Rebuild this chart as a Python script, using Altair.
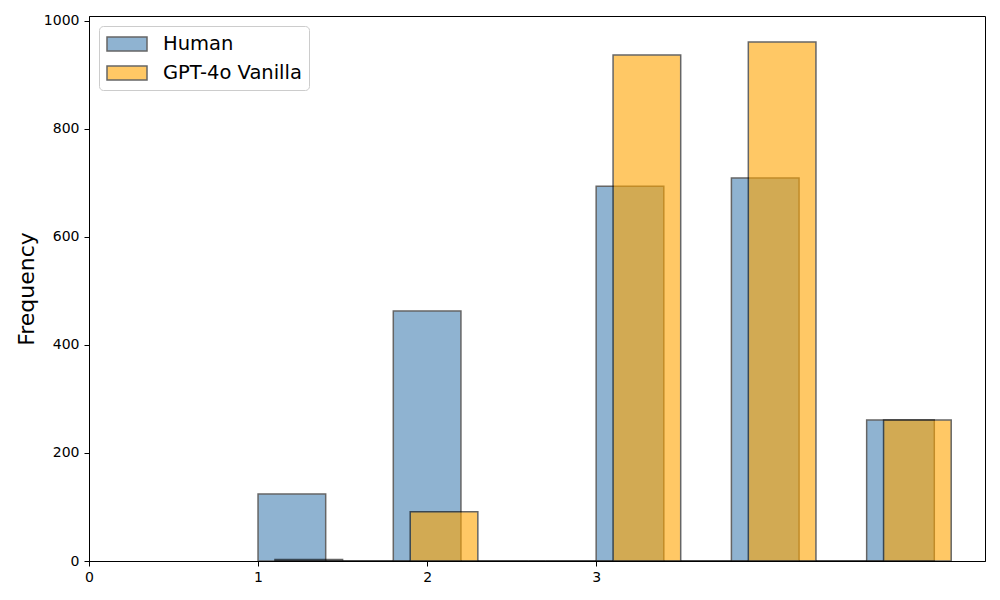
import altair as alt
import pandas as pd

# Histogram bins (start edges) and counts
human_bin_start = [1.0, 1.4, 1.8, 2.2, 2.6, 3.0, 3.4, 3.8, 4.2, 4.6]
human_counts = [124, 0, 463, 0, 0, 694, 0, 709, 0, 261]
gpt_bin_start = [1.1, 1.5, 1.9, 2.3, 2.7, 3.1, 3.5, 3.9, 4.3, 4.7]
gpt_counts = [3, 0, 91, 0, 0, 937, 0, 961, 0, 261]
bin_width = 0.4
series_names = ["Human", "GPT-4o Vanilla"]
series_colors = ["#4682b4", "#FFA500"]
x_ticks = [0, 1, 2, 3]
y_ticks = [0, 200, 400, 600, 800, 1000]

rows = []
for s, c in zip(human_bin_start, human_counts):
    rows.append({"x": s, "x2": s + bin_width, "count": c, "series": series_names[0], "order": 0})
for s, c in zip(gpt_bin_start, gpt_counts):
    rows.append({"x": s, "x2": s + bin_width, "count": c, "series": series_names[1], "order": 1})
df = pd.DataFrame(rows)

FONT = "DejaVu Sans"

bars = alt.Chart(df).mark_rect(
    opacity=0.6, stroke="black", strokeWidth=1.5
).encode(
    x=alt.X("x:Q", scale=alt.Scale(domain=[0, 5.3], nice=False, zero=False),
            axis=alt.Axis(values=x_ticks, title=None, grid=False, format="d",
                          tickSize=5, tickColor="black", domainColor="black",
                          labelColor="black", labelFontSize=14, labelFont=FONT,
                          labelPadding=4, labelFlush=False)),
    x2="x2:Q",
    y=alt.Y("count:Q", scale=alt.Scale(domain=[0, 1009], nice=False),
            axis=alt.Axis(values=y_ticks, title="Frequency", grid=False, format="d",
                          tickSize=5, tickColor="black", domainColor="black",
                          labelColor="black", labelFontSize=14, labelFont=FONT,
                          labelPadding=5, labelFlush=False, titleFontSize=22,
                          titleFont=FONT, titleFontWeight="normal",
                          titleColor="black", titlePadding=5)),
    y2=alt.datum(0),
    fill=alt.Fill("series:N", scale=alt.Scale(domain=series_names, range=series_colors),
                  legend=alt.Legend(
                      title=None, orient="none", legendX=10, legendY=10,
                      symbolType="M-1,-0.7H3V0.7H-1Z", symbolSize=400,
                      symbolStrokeColor="black", symbolStrokeWidth=1.5,
                      symbolOpacity=0.6, labelFontSize=19.5, labelFont=FONT,
                      labelColor="black", labelOffset=35, rowPadding=8,
                      padding=7, fillColor="white", strokeColor="#cccccc",
                      cornerRadius=4)),
    order=alt.Order("order:Q"),
).properties(width=896, height=545)

chart = bars.configure_view(stroke="black", strokeWidth=1).properties(
    autosize=alt.AutoSizeParams(type="none"),
    padding={"left": 81, "top": 8, "right": 7, "bottom": 30},
)

chart.save("out.html", embed_options={"renderer": "svg", "actions": False})
